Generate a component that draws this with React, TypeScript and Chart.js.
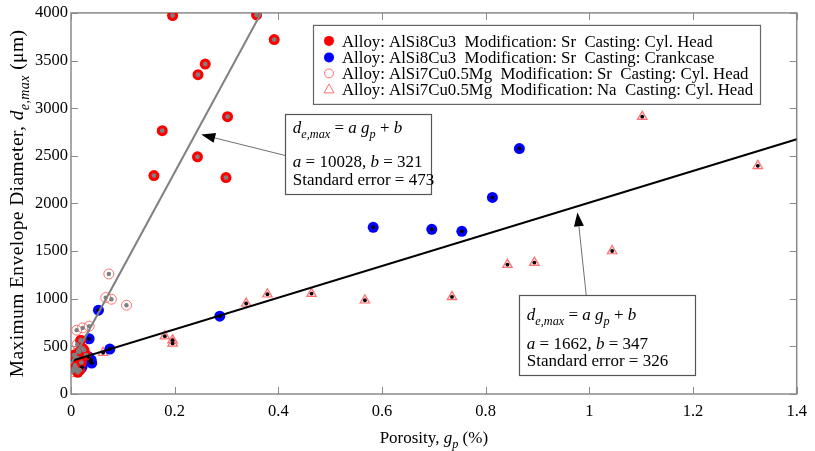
import React, { useEffect, useRef } from 'react';
import { Chart, registerables } from 'chart.js';
Chart.register(...registerables);

const FONT = "'Liberation Serif', 'Times New Roman', serif";

// ---- axes ----
const xTickValues = [0, 0.2, 0.4, 0.6, 0.8, 1, 1.2, 1.4];
const xTickLabels = ['0', '0.2', '0.4', '0.6', '0.8', '1', '1.2', '1.4'];
const yTickValues = [0, 500, 1000, 1500, 2000, 2500, 3000, 3500, 4000];
const yTickLabels = ['0', '500', '1000', '1500', '2000', '2500', '3000', '3500', '4000'];

// ---- legend labels ----
const seriesLabels = [
  'Alloy: AlSi8Cu3  Modification: Sr  Casting: Cyl. Head',
  'Alloy: AlSi8Cu3  Modification: Sr  Casting: Crankcase',
  'Alloy: AlSi7Cu0.5Mg  Modification: Sr  Casting: Cyl. Head',
  'Alloy: AlSi7Cu0.5Mg  Modification: Na  Casting: Cyl. Head',
];

// ---- series 1: AlSi8Cu3 / Sr / Cyl. Head (red filled) ----
const s1X = [0.196, 0.358, 0.392, 0.259, 0.245, 0.302, 0.176, 0.244, 0.160, 0.299,
  0.019, 0.0225, 0.016, 0.029, 0.006, 0.010, 0.013, 0.012, 0.020, 0.025, 0.008, 0.017];
const s1Y = [3972, 3979, 3720, 3463, 3351, 2911, 2764, 2489, 2293, 2272,
  565, 478, 443, 408, 408, 269, 227, 380, 330, 460, 300, 250];

// ---- series 2: AlSi8Cu3 / Sr / Crankcase (blue filled) ----
const s2X = [0.583, 0.696, 0.754, 0.813, 0.865, 0.287,
  0.053, 0.035, 0.075, 0.039, 0.040, 0.021, 0.034, 0.037];
const s2Y = [1749, 1728, 1707, 2063, 2576, 817,
  880, 580, 472, 356, 325, 280, 390, 340];

// ---- series 3: AlSi7Cu0.5Mg / Sr / Cyl. Head (open circles) ----
const s3X = [0.073, 0.067, 0.078, 0.107, 0.011, 0.0225, 0.035, 0.018, 0.005, 0.002,
  0.012, 0.008, 0.014];
const s3Y = [1260, 1012, 995, 932, 670, 694, 712, 560, 269, 233,
  520, 250, 460];

// ---- series 4: AlSi7Cu0.5Mg / Na / Cyl. Head (open triangles) ----
const s4X = [0.062, 0.181, 0.196, 0.196, 0.338, 0.379, 0.464, 0.567, 0.735, 0.842,
  0.894, 1.044, 1.102, 1.325];
const s4Y = [433, 607, 565, 531, 950, 1047, 1054, 984, 1019, 1358,
  1379, 1501, 2911, 2395];

// ---- linear fits ----
const fitGray = { a: 10028, b: 321, se: 473 };
const fitBlack = { a: 1662, b: 347, se: 326 };
const fitX = [0, 1.4];

type Seg = { t: string; i?: boolean; s?: boolean };

function segFont(seg: Seg, size: number) {
  const sz = seg.s ? size * 0.72 : size;
  return `${seg.i ? 'italic ' : ''}${sz}px ${FONT}`;
}
function measureRich(ctx: CanvasRenderingContext2D, segs: Seg[], size: number) {
  let w = 0;
  for (const s of segs) {
    ctx.font = segFont(s, size);
    w += ctx.measureText(s.t).width;
  }
  return w;
}
function drawRich(ctx: CanvasRenderingContext2D, segs: Seg[], x: number, y: number, size: number, align: 'left' | 'center') {
  const w = measureRich(ctx, segs, size);
  let cx = align === 'center' ? x - w / 2 : x;
  ctx.textAlign = 'left';
  ctx.textBaseline = 'alphabetic';
  for (const s of segs) {
    ctx.font = segFont(s, size);
    ctx.fillText(s.t, cx, y + (s.s ? size * 0.3 : 0));
    cx += ctx.measureText(s.t).width;
  }
}

function eqSegs(): Seg[] {
  return [
    { t: 'd', i: true }, { t: 'e,max', i: true, s: true }, { t: ' = ' }, { t: 'a', i: true }, { t: ' ' },
    { t: 'g', i: true }, { t: 'p', i: true, s: true }, { t: ' + ' }, { t: 'b', i: true },
  ];
}
function coefSegs(f: { a: number; b: number }): Seg[] {
  return [{ t: 'a', i: true }, { t: ` = ${f.a}, ` }, { t: 'b', i: true }, { t: ` = ${f.b}` }];
}

const annotations = [
  { fit: fitGray, box: [0.4135, 2942, 0.696, 2105], from: [0.4135, 2503], tip: [0.2513, 2723], lines: [14, 48, 66] },
  { fit: fitBlack, box: [0.865, 1037, 1.204, 199], from: [0.994, 1037], tip: [0.977, 1906], lines: [19, 48, 65] },
];

function drawArrow(ctx: CanvasRenderingContext2D, x0: number, y0: number, x1: number, y1: number) {
  const dx = x1 - x0, dy = y1 - y0;
  const len = Math.hypot(dx, dy);
  const ux = dx / len, uy = dy / len;
  const hl = 14, hw = 5;
  const bx = x1 - ux * hl, by = y1 - uy * hl;
  ctx.strokeStyle = '#707070';
  ctx.lineWidth = 1;
  ctx.beginPath();
  ctx.moveTo(x0, y0);
  ctx.lineTo(bx, by);
  ctx.stroke();
  ctx.fillStyle = '#000';
  ctx.beginPath();
  ctx.moveTo(x1, y1);
  ctx.lineTo(bx - uy * hw, by + ux * hw);
  ctx.lineTo(bx + uy * hw, by - ux * hw);
  ctx.closePath();
  ctx.fill();
}

const framePlugin = {
  id: 'frameAndText',
  beforeDatasetsDraw(chart: any) {
    const { ctx, chartArea: ca, scales } = chart;
    const xs = scales.x, ys = scales.y;
    ctx.save();
    ctx.strokeStyle = '#8a8a8a';
    ctx.lineWidth = 1.5;
    ctx.strokeRect(ca.left, ca.top, ca.right - ca.left, ca.bottom - ca.top);
    ctx.lineWidth = 1;
    const tl = 7;
    ctx.beginPath();
    for (const v of xTickValues) {
      const px = Math.round(xs.getPixelForValue(v)) + 0.5;
      ctx.moveTo(px, ca.bottom); ctx.lineTo(px, ca.bottom - tl);
      ctx.moveTo(px, ca.top); ctx.lineTo(px, ca.top + tl);
    }
    for (const v of yTickValues) {
      const py = Math.round(ys.getPixelForValue(v)) + 0.5;
      ctx.moveTo(ca.left, py); ctx.lineTo(ca.left + tl, py);
      ctx.moveTo(ca.right, py); ctx.lineTo(ca.right - tl, py);
    }
    ctx.stroke();
    ctx.restore();
  },
  afterDatasetsDraw(chart: any) {
    const { ctx, chartArea: ca, scales } = chart;
    const xs = scales.x, ys = scales.y;
    ctx.save();
    ctx.fillStyle = '#000';
    // axis titles
    drawRich(ctx, [{ t: 'Porosity, ' }, { t: 'g', i: true }, { t: 'p', i: true, s: true }, { t: ' (%)' }],
      (ca.left + ca.right) / 2, ca.bottom + 49, 17, 'center');
    ctx.save();
    ctx.translate(17, (ca.top + ca.bottom) / 2);
    ctx.rotate(-Math.PI / 2);
    ctx.fillStyle = '#000';
    (ctx as any).letterSpacing = '0.4px';
    drawRich(ctx, [{ t: 'Maximum Envelope Diameter, ' }, { t: 'd', i: true }, { t: 'e,max', i: true, s: true }, { t: ' (μm)' }],
      0, 6.3, 19.5, 'center');
    ctx.restore();

    // annotations
    for (const an of annotations) {
      const bx0 = xs.getPixelForValue(an.box[0]);
      const by0 = ys.getPixelForValue(an.box[1]);
      const bx1 = xs.getPixelForValue(an.box[2]);
      const by1 = ys.getPixelForValue(an.box[3]);
      drawArrow(ctx, xs.getPixelForValue(an.from[0]), ys.getPixelForValue(an.from[1]),
        xs.getPixelForValue(an.tip[0]), ys.getPixelForValue(an.tip[1]));
      ctx.fillStyle = '#fff';
      ctx.fillRect(bx0, by0, bx1 - bx0, by1 - by0);
      ctx.strokeStyle = '#555';
      ctx.lineWidth = 1.2;
      ctx.strokeRect(Math.round(bx0) + 0.5, Math.round(by0) + 0.5, Math.round(bx1 - bx0), Math.round(by1 - by0));
      ctx.fillStyle = '#000';
      const tx = bx0 + 7.5;
      drawRich(ctx, eqSegs(), tx, by0 + an.lines[0] + 5.6, 17, 'left');
      drawRich(ctx, coefSegs(an.fit), tx, by0 + an.lines[1] + 5.6, 17, 'left');
      drawRich(ctx, [{ t: `Standard error = ${an.fit.se}` }], tx, by0 + an.lines[2] + 5.6, 17, 'left');
    }

    // legend
    const lx = ca.left + 242, ly = ca.top + 12, lw = 447, lh = 79;
    ctx.fillStyle = '#fff';
    ctx.fillRect(lx, ly, lw, lh);
    ctx.strokeStyle = '#666';
    ctx.lineWidth = 1.2;
    ctx.strokeRect(lx + 0.5, ly + 0.5, lw, lh);
    const rows = [16, 32.5, 48.5, 64];
    seriesLabels.forEach((lab, i) => {
      const cy = ly + rows[i];
      const mx = lx + 16;
      if (i === 0 || i === 1) {
        ctx.fillStyle = i === 0 ? '#ff0000' : '#0000ff';
        ctx.beginPath(); ctx.arc(mx, cy, 5, 0, Math.PI * 2); ctx.fill();
      } else if (i === 2) {
        ctx.strokeStyle = '#ff7070'; ctx.lineWidth = 1;
        ctx.beginPath(); ctx.arc(mx, cy, 4.5, 0, Math.PI * 2); ctx.stroke();
      } else {
        ctx.strokeStyle = '#ff7070'; ctx.lineWidth = 1;
        ctx.beginPath();
        ctx.moveTo(mx, cy - 5); ctx.lineTo(mx + 5, cy + 4); ctx.lineTo(mx - 5, cy + 4); ctx.closePath();
        ctx.stroke();
      }
      ctx.fillStyle = '#000';
      ctx.font = `16.8px ${FONT}`;
      ctx.textAlign = 'left';
      ctx.textBaseline = 'alphabetic';
      ctx.fillText(lab, lx + 29, cy + 5.6);
    });
    ctx.restore();
  },
};

function pts(xs: number[], ys: number[]) {
  return xs.map((x, i) => ({ x, y: ys[i] }));
}
function fitPts(f: { a: number; b: number }) {
  return fitX.map((x) => ({ x, y: f.a * x + f.b }));
}

export default function App() {
  const ref = useRef<HTMLCanvasElement>(null);
  useEffect(() => {
    if (!ref.current) return;
    const base = { showLine: false, borderWidth: 0 };
    const chart = new Chart(ref.current, {
      type: 'scatter',
      data: {
        datasets: [
          { data: fitPts(fitGray), showLine: true, borderColor: '#808080', borderWidth: 2, pointRadius: 0, clip: 0, order: 0 } as any,
          { data: fitPts(fitBlack), showLine: true, borderColor: '#000000', borderWidth: 2, pointRadius: 0, clip: 0, order: 0 } as any,
          // centres
          { ...base, data: pts(s1X, s1Y), pointRadius: 2.4, backgroundColor: '#7f7f7f', order: 1 },
          { ...base, data: pts(s2X, s2Y), pointRadius: 2, backgroundColor: '#000000', order: 1 },
          { ...base, data: pts(s3X, s3Y), pointRadius: 2.2, backgroundColor: '#7f7f7f', order: 1 },
          { ...base, data: pts(s4X, s4Y), pointRadius: 1.9, backgroundColor: '#000000', order: 1 },
          // markers
          { ...base, data: pts(s1X, s1Y), pointRadius: 5.5, backgroundColor: '#ff0000', order: 2 },
          { ...base, data: pts(s2X, s2Y), pointRadius: 5.5, backgroundColor: '#0000ff', order: 2 },
          { data: pts(s3X, s3Y), showLine: false, pointRadius: 5, borderWidth: 1, borderColor: '#ff7070', backgroundColor: 'rgba(255,255,255,0)', order: 2 },
          { data: pts(s4X, s4Y), showLine: false, pointStyle: 'triangle', pointRadius: 5.5, borderWidth: 1.2, borderColor: '#ff7070', backgroundColor: 'rgba(255,170,170,0.35)', order: 2 },
        ],
      },
      options: {
        animation: false,
        responsive: false,
        events: [],
        layout: { padding: { top: 12, right: 16, left: 0, bottom: 0 } },
        plugins: { legend: { display: false }, tooltip: { enabled: false } },
        scales: {
          x: {
            type: 'linear', min: 0, max: 1.4,
            grid: { display: false, drawTicks: false },
            border: { display: false },
            afterBuildTicks: (s: any) => { s.ticks = xTickValues.map((v) => ({ value: v })); },
            afterFit: (s: any) => { s.height = 57; },
            ticks: {
              padding: 8, color: '#000', font: { family: FONT, size: 16.5 }, maxRotation: 0, autoSkip: false,
              callback: (_v: any, i: number) => xTickLabels[i],
            },
          },
          y: {
            type: 'linear', min: 0, max: 4000,
            grid: { display: false, drawTicks: false },
            border: { display: false },
            afterBuildTicks: (s: any) => { s.ticks = yTickValues.map((v) => ({ value: v })); },
            afterFit: (s: any) => { s.width = 71; },
            ticks: {
              padding: 3, color: '#000', font: { family: FONT, size: 16.5 }, autoSkip: false,
              callback: (_v: any, i: number) => yTickLabels[i],
            },
          },
        },
      },
      plugins: [framePlugin],
    } as any);
    return () => chart.destroy();
  }, []);
  return (
    <div style={{ position: 'fixed', left: 0, top: 0, width: 815, height: 451, background: '#fff' }}>
      <canvas ref={ref} width={815} height={451} />
    </div>
  );
}
